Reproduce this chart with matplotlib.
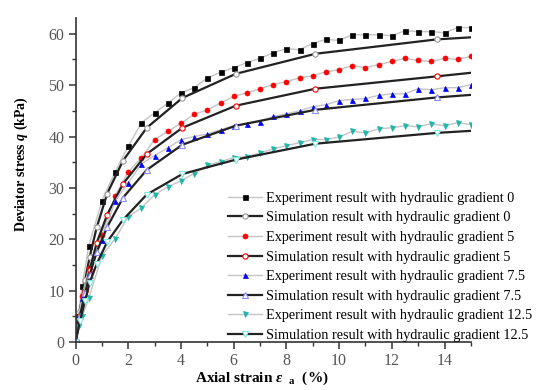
import numpy as np
import matplotlib
matplotlib.use('Agg')
import matplotlib.pyplot as plt

plt.rcParams['font.family'] = ['Liberation Serif', 'DejaVu Serif']
plt.rcParams['mathtext.fontset'] = 'custom'
plt.rcParams['mathtext.rm'] = 'Liberation Serif:bold'
plt.rcParams['mathtext.it'] = 'Liberation Serif:italic:bold'

# measured stress-strain curves (strain in %, deviator stress in kPa)
exp_strain = [0, 0.1, 0.25, 0.5, 1.0, 1.5, 2.0, 2.5, 3.0, 3.5, 4.0, 4.5, 5.0, 5.5,
              6.0, 6.5, 7.0, 7.5, 8.0, 8.5, 9.0, 9.5, 10.0, 10.5, 11.0, 11.5,
              12.0, 12.5, 13.0, 13.5, 14.0, 14.5, 15.0]
exp_q0 = [0, 5, 11, 18.7, 27.5, 33.1, 38.1, 42.7, 44.6, 46.5, 48.5, 49.5, 51.4, 52.5,
          53.4, 54.4, 55.2, 56.3, 57.1, 56.9, 58.1, 58.9, 58.7, 59.8, 59.8, 59.8,
          59.6, 60.6, 60.4, 60.4, 60.2, 61.2, 61.2]
exp_q5 = [0, 4, 9, 14.4, 20.9, 28.5, 33.1, 35.9, 39.4, 41.0, 42.6, 44.3, 45.2, 46.5,
          47.8, 48.5, 49.3, 50.1, 50.7, 51.4, 51.8, 52.6, 53.0, 53.8, 53.4, 54.0,
          54.6, 55.2, 54.8, 54.6, 55.2, 55.0, 55.6]
exp_q75 = [0, 4, 8.5, 13.0, 19.9, 27.5, 31.0, 34.7, 36.3, 37.8, 39.4, 40.0, 40.5, 41.3,
           42.1, 42.5, 42.9, 43.9, 44.4, 45.0, 45.8, 46.2, 47.0, 47.2, 47.4, 48.0,
           48.3, 48.3, 49.3, 49.1, 49.5, 49.5, 50.1]
exp_q125 = [0, 3, 5, 8.5, 16.8, 20.1, 24.4, 26.1, 28.7, 30.2, 31.4, 32.8, 34.4, 35.1,
            35.9, 36.1, 36.8, 37.6, 38.2, 38.8, 39.4, 39.4, 39.9, 41.0, 40.7, 41.5,
            41.7, 42.1, 41.9, 42.5, 42.1, 42.7, 42.3]

# simulated curves
sim_strain = [0, 0.16, 0.36, 0.53, 0.8, 1.2, 1.8, 2.7, 4.05, 6.08, 9.1, 13.7, 15.0]
sim_q0 = [0, 6, 12, 16.5, 22.3, 28.9, 35.3, 41.7, 47.5, 52.2, 56.1, 58.9, 59.3]
sim_q5 = [0, 5, 10, 14, 19.3, 24.8, 30.8, 36.6, 41.7, 46.0, 49.3, 51.7, 52.4]
sim_q75 = [0, 5, 9.5, 13, 17.5, 22.4, 28.1, 33.5, 38.4, 42.1, 45.2, 47.6, 48.1]
sim_q125 = [0, 4, 8, 11.5, 15.2, 19.5, 23.8, 28.7, 32.7, 35.5, 38.6, 40.7, 41.1]

gradients = ['0', '5', '7.5', '12.5']
exp_series = [exp_q0, exp_q5, exp_q75, exp_q125]
sim_series = [sim_q0, sim_q5, sim_q75, sim_q125]
exp_style = [('s', 'black'), ('o', 'red'), ('^', 'blue'), ('v', '#1fb5a8')]
sim_edge = ['#999999', 'red', '#8c8cff', '#7fe8e0']
sim_marker = ['o', 'o', '^', 'v']

fig = plt.figure(figsize=(5.4, 3.9), dpi=100)
ax = fig.add_axes([0.140, 0.123, 0.732, 0.830])

handles = []
for g, eq, sq, (m, c), se, sm in zip(gradients, exp_series, sim_series,
                                      exp_style, sim_edge, sim_marker):
    h1, = ax.plot(exp_strain, eq, color='#c4c4c4', lw=1.0, marker=m, ms=3.6,
                  mfc=c, mec=c, mew=0.5,
                  label='Experiment result with hydraulic gradient ' + g)
    h2, = ax.plot(sim_strain, sq, color='#222222', lw=1.6, marker=sm, ms=3.8,
                  mfc='white', mec=se, mew=0.8, markevery=list(range(len(sq) - 1)),
                  label='Simulation result with hydraulic gradient ' + g)
    handles += [h1, h2]

ax.set_xlim(0, 15)
ax.set_ylim(0, 63)
ax.set_xticks(np.arange(0, 15, 2))
ax.set_xticks(np.arange(0, 16, 1), minor=True)
ax.set_yticks(np.arange(0, 61, 10))
ax.set_yticks(np.arange(0, 63, 5), minor=True)
for side in ('top', 'right'):
    ax.spines[side].set_visible(False)
for side in ('left', 'bottom'):
    ax.spines[side].set_linewidth(1.2)
    ax.spines[side].set_color('#333333')
ax.tick_params(which='major', direction='out', length=5, width=1.1,
               labelsize=11.5, colors='#333333', labelcolor='#555555', pad=3)
ax.tick_params(which='minor', direction='out', length=3, width=1.0, colors='#333333')

ax.set_xlabel(r'Axial strain $\varepsilon_{\;\;\;\rm a}$  (%)', fontsize=11,
              fontweight='bold')
ax.xaxis.set_label_coords(0.47, -0.086)
ax.set_ylabel(r'Deviator stress $q$ (kPa)', fontsize=10, fontweight='bold')
ax.yaxis.set_label_coords(-0.116, 0.55)

fig.legend(handles=handles, loc='lower left', bbox_to_anchor=(0.422, 0.123),
           frameon=False, fontsize=10.3, handlelength=2.4, handletextpad=0.27,
           labelspacing=0.46, borderpad=0, borderaxespad=0)

fig.savefig('out.png', dpi=100)
